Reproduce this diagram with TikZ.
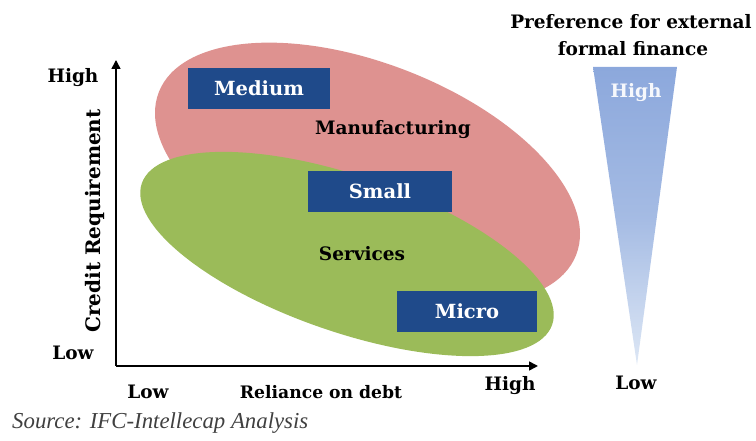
\documentclass[tikz,border=0pt]{standalone}
\usepackage{fontspec}
\setmainfont{DejaVu Serif}
\newfontfamily\srcfont{Liberation Serif}
\usetikzlibrary{arrows.meta}
\definecolor{pinkE}{HTML}{DE9290}
\definecolor{greenE}{HTML}{9BBB59}
\definecolor{boxblue}{HTML}{1F4A8A}
\definecolor{triTop}{HTML}{8CA8DC}
\definecolor{triBot}{HTML}{DDE7F5}
\definecolor{srcgray}{HTML}{404040}
\tikzset{
  lbl/.style={font=\bfseries\fontsize{18.5}{20}\selectfont, text=black, inner sep=0pt},
  sizebox/.style={fill=boxblue, minimum width=#1, minimum height=41pt, inner sep=0pt,
    font=\bfseries\fontsize{19.5}{21}\selectfont, text=white},
  axisline/.style={line width=1.6pt, -{Triangle[length=9pt,width=9pt]}},
}
\begin{document}
\begin{tikzpicture}[x=1pt,y=1pt]
\useasboundingbox (0,0) rectangle (756,441);
% ellipses
\fill[pinkE, rotate around={-21.3:(367.5,267.5)}] (367.5,267.5) ellipse (224 and 110);
\fill[greenE, rotate around={-19:(347,187)}] (347,187) ellipse (217 and 78);
% boxes
\node[sizebox=142pt] (medium) at (259,352.5) {Medium};
\node[sizebox=144pt] (small) at (380,249.5) {Small};
\node[sizebox=140pt] (micro) at (467,129.5) {Micro};
\node[lbl] (manu) at (393,311) {Manufacturing};
\node[lbl] (serv) at (362,187) {Services};
% axes
\coordinate (origin) at (116,75);
\coordinate (ytop) at (116,381);
\coordinate (xend) at (538,75);
\draw[axisline] (origin) -- (ytop);
\draw[axisline] (origin) -- (xend);
\node[lbl] (yhigh) at (73,363) {High};
\node[lbl] (ylow) at (73,88) {Low};
\node[lbl, rotate=90, font=\bfseries\fontsize{20}{22}\selectfont] (ylab) at (95,220) {Credit Requirement};
\node[lbl] (xlow) at (148,49) {Low};
\node[lbl, font=\bfseries\fontsize{17.2}{19}\selectfont] (xlab) at (321,49) {Reliance on debt};
\node[lbl] (xhigh) at (510,55) {High};
% triangle
\coordinate (tl) at (593,374);
\coordinate (tr) at (677,374);
\coordinate (tip) at (637,76);
\shade[top color=triTop, bottom color=triBot, middle color=triTop!70!triBot] (tl) -- (tr) -- (tip) -- cycle;
\node[lbl, text=white!92!triTop] (thigh) at (636,348) {High};
\node[lbl] (tlow) at (636,58) {Low};
\node[lbl] (pref1) at (631,419) {Preference for external};
\node[lbl] (pref2) at (633,392) {formal finance};
\node[font=\srcfont\itshape\fontsize{22.8}{24}\selectfont, text=srcgray, anchor=west, inner sep=0pt] (src) at (12,18) {Source: IFC-Intellecap Analysis};
\end{tikzpicture}
\end{document}
